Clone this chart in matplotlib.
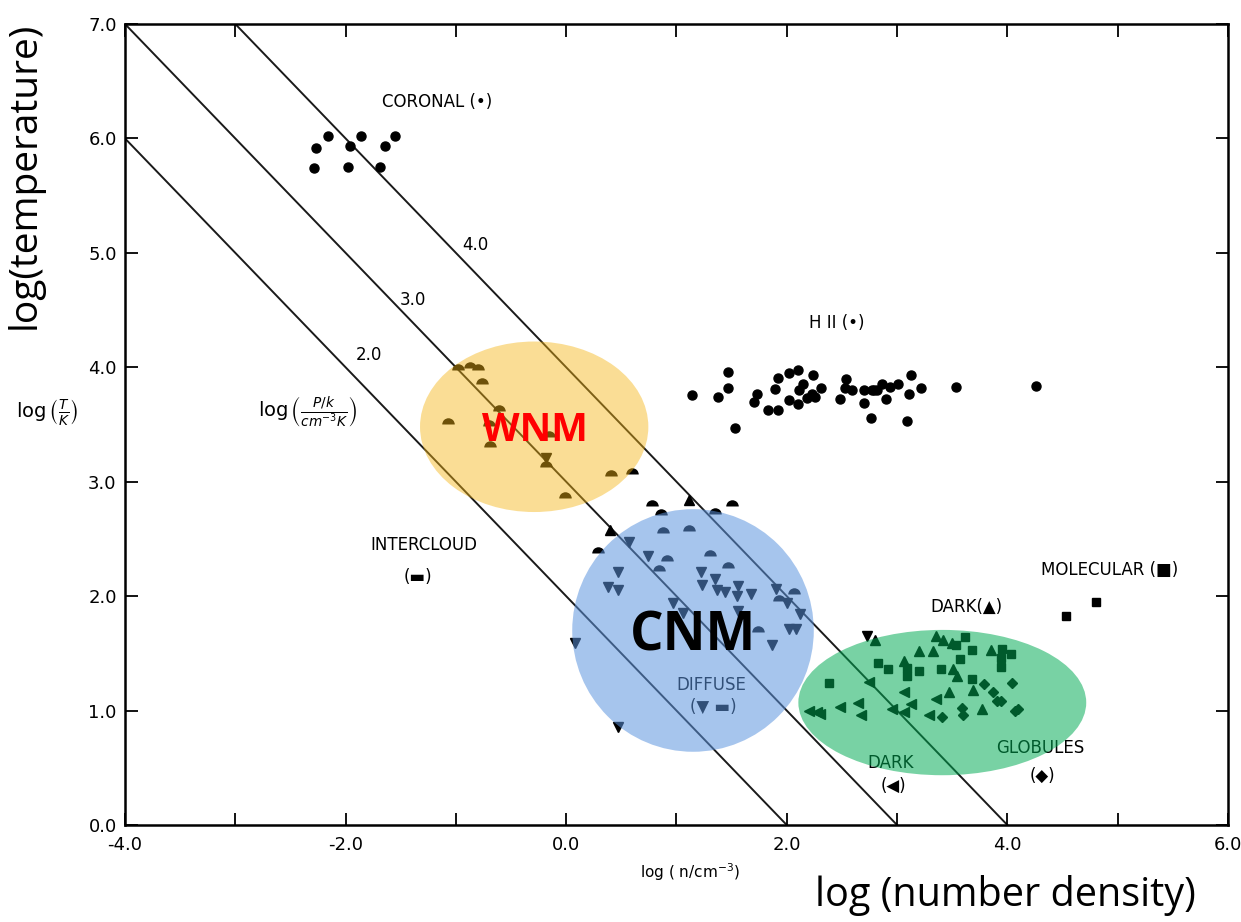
import matplotlib
matplotlib.use('Agg')
import matplotlib.pyplot as plt
from matplotlib.patches import Ellipse
import numpy as np

plt.rcParams['axes.unicode_minus'] = False

# lines of constant pressure log(P/k) = log n + log T
pressure_levels = [2.0, 3.0, 4.0]

# coronal gas
coronal_x = [-2.16, -1.86, -1.55, -2.27, -1.96, -1.64, -2.29, -1.98, -1.69]
coronal_y = [6.02, 6.02, 6.02, 5.92, 5.93, 5.93, 5.74, 5.75, 5.75]

# H II regions
hii_x = [1.14, 1.38, 1.47, 1.47, 1.53, 1.70, 1.73, 1.83, 1.92, 1.89, 1.92, 2.02,
         2.10, 2.02, 2.10, 2.11, 2.15, 2.18, 2.24, 2.23, 2.26, 2.31, 2.48, 2.54,
         2.53, 2.59, 2.70, 2.70, 2.76, 2.79, 2.77, 2.82, 2.86, 2.94, 3.01, 3.13,
         3.11, 3.22, 2.90, 3.09, 3.53, 4.26]
hii_y = [3.76, 3.74, 3.96, 3.82, 3.47, 3.70, 3.77, 3.63, 3.63, 3.81, 3.91, 3.95,
         3.98, 3.71, 3.68, 3.80, 3.85, 3.73, 3.93, 3.77, 3.74, 3.82, 3.72, 3.90,
         3.82, 3.80, 3.80, 3.69, 3.56, 3.80, 3.80, 3.80, 3.85, 3.83, 3.85, 3.93,
         3.77, 3.82, 3.72, 3.53, 3.83, 3.84]

# intercloud / diffuse half-disk points
dome_x = [-0.98, -0.87, -0.80, -0.76, -0.61, -1.07, -0.70, -0.16, -0.69, -0.18,
          0.41, 0.60, -0.01, 0.78, 0.86, 1.50, 1.35, 0.88, 1.11, 0.29, 0.91,
          1.30, 0.84, 1.47, 2.07, 1.93, 1.74]
dome_y = [3.98, 3.99, 3.98, 3.85, 3.62, 3.50, 3.49, 3.39, 3.30, 3.13,
          3.05, 3.07, 2.86, 2.79, 2.71, 2.79, 2.72, 2.55, 2.57, 2.38, 2.31,
          2.35, 2.22, 2.25, 2.02, 1.96, 1.69]

# diffuse clouds (down triangles)
diffuse_x = [-0.18, 0.57, 0.74, 0.47, 1.22, 1.35, 0.38, 0.47, 1.23, 1.37, 1.44,
             1.56, 1.55, 1.68, 1.90, 2.00, 2.12, 0.97, 1.06, 1.56, 2.02, 2.08,
             1.87, 0.08, 0.47, 2.73]
diffuse_y = [3.21, 2.47, 2.35, 2.21, 2.21, 2.15, 2.08, 2.05, 2.10, 2.05, 2.04,
             2.09, 2.00, 2.02, 2.06, 1.94, 1.84, 1.94, 1.85, 1.87, 1.71, 1.71,
             1.57, 1.59, 0.86, 1.65]

# dark clouds (up triangles)
dark_x = [1.11, 0.40, 2.80, 3.35, 3.42, 3.50, 3.20, 3.33, 3.85, 3.06, 3.54,
          3.47, 3.69, 3.77, 3.51]
dark_y = [2.84, 2.58, 1.62, 1.65, 1.62, 1.59, 1.52, 1.52, 1.53, 1.43, 1.30,
          1.16, 1.18, 1.01, 1.36]

# molecular clouds (squares)
mol_x = [2.38, 2.83, 2.92, 3.09, 3.09, 3.20, 3.40, 3.68, 3.57, 3.68, 3.95,
         4.03, 3.94, 3.62, 3.53, 3.94, 4.53, 4.80]
mol_y = [1.24, 1.42, 1.36, 1.30, 1.37, 1.35, 1.36, 1.53, 1.45, 1.28, 1.54,
         1.49, 1.38, 1.64, 1.57, 1.46, 1.83, 1.95]

# globules (diamonds)
glob_x = [3.79, 4.04, 3.87, 3.59, 3.60, 3.41, 3.91, 3.94, 4.07, 4.10]
glob_y = [1.23, 1.24, 1.16, 1.02, 0.96, 0.94, 1.08, 1.08, 1.00, 1.01]

# dark clouds (left triangles)
darkl_x = [2.27, 2.20, 2.30, 2.48, 2.65, 2.67, 2.75, 3.06, 3.13, 2.95, 3.06,
           3.29, 3.35]
darkl_y = [0.99, 1.00, 0.97, 1.03, 1.07, 0.96, 1.25, 1.16, 1.06, 1.01, 0.99,
           0.96, 1.10]

fig = plt.figure(figsize=(12.41, 9.22), dpi=100)
ax = fig.add_axes([0.1007, 0.1052, 0.8888, 0.8688])

n = np.array([-4.0, 6.0])
for p in pressure_levels:
    ax.plot(n, p - n, color='#1a1a1a', lw=1.4, zorder=1)

ms = 6.5
ax.plot(coronal_x, coronal_y, 'o', color='k', ms=ms, zorder=2)
ax.plot(hii_x, hii_y, 'o', color='k', ms=ms, zorder=2)
ax.plot(dome_x, dome_y, 'o', color='k', ms=9, fillstyle='top',
        markerfacecoloralt='none', mew=0, zorder=2)
ax.plot(diffuse_x, diffuse_y, 'v', color='k', ms=ms, zorder=2)
ax.plot(dark_x, dark_y, '^', color='k', ms=ms, zorder=2)
ax.plot(mol_x, mol_y, 's', color='k', ms=5.5, zorder=2)
ax.plot(glob_x, glob_y, 'D', color='k', ms=5.5, zorder=2)
ax.plot(darkl_x, darkl_y, '<', color='k', ms=ms, zorder=2)

# annotations from the original figure
fs = 12
ax.text(-0.825, 5.07, '4.0', fontsize=fs, ha='center', va='center', zorder=2)
ax.text(-1.39, 4.59, '3.0', fontsize=fs, ha='center', va='center', zorder=2)
ax.text(-1.79, 4.11, '2.0', fontsize=fs, ha='center', va='center', zorder=2)
ax.text(-2.34, 3.61, r'$\log\left(\frac{P/k}{cm^{-3}K}\right)$', fontsize=14,
        ha='center', va='center', zorder=2)
ax.text(-1.17, 6.32, 'CORONAL (•)', fontsize=fs, ha='center', va='center')
ax.text(2.45, 4.39, 'H II (•)', fontsize=fs, ha='center', va='center')
ax.text(-1.29, 2.45, 'INTERCLOUD', fontsize=fs, ha='center', va='center')
ax.text(-1.34, 2.17, '(▬)', fontsize=fs, ha='center', va='center')
ax.text(1.32, 1.22, 'DIFFUSE', fontsize=fs, ha='center', va='center', zorder=2)
ax.text(1.33, 1.03, '(▼ ▬)', fontsize=fs, ha='center', va='center', zorder=2)
ax.text(3.63, 1.91, 'DARK(▲)', fontsize=fs, ha='center', va='center')
ax.text(4.93, 2.23, 'MOLECULAR (■)', fontsize=fs, ha='center', va='center')
ax.text(2.94, 0.54, 'DARK', fontsize=fs, ha='center', va='center', zorder=2)
ax.text(2.97, 0.34, '(◀)', fontsize=fs, ha='center', va='center', zorder=2)
ax.text(4.30, 0.67, 'GLOBULES', fontsize=fs, ha='center', va='center', zorder=2)
ax.text(4.32, 0.43, '(◆)', fontsize=fs, ha='center', va='center', zorder=2)

# highlighted phases
ax.add_patch(Ellipse((-0.29, 3.48), 2.07, 1.49, facecolor=(0.96, 0.71, 0.08),
                     alpha=0.45, edgecolor='none', zorder=3))
ax.add_patch(Ellipse((1.15, 1.70), 2.19, 2.12, facecolor=(0.36, 0.58, 0.87),
                     alpha=0.54, edgecolor='none', zorder=3))
ax.add_patch(Ellipse((3.41, 1.07), 2.61, 1.27, facecolor=(0.0, 0.67, 0.33),
                     alpha=0.53, edgecolor='none', zorder=3))
ax.text(-0.28, 3.45, 'WNM', fontsize=28, fontweight='bold', color='red',
        family='Open Sans', ha='center', va='center', zorder=4)
ax.text(1.15, 1.65, 'CNM', fontsize=38, fontweight='bold', color='black',
        family='Open Sans', ha='center', va='center', zorder=4)

ax.set_xlim(-4, 6)
ax.set_ylim(0, 7)
ax.set_xticks(np.arange(-4, 7, 2))
ax.set_xticks(np.arange(-3, 6, 2), minor=True)
ax.set_yticks(np.arange(0, 8, 1))
ax.set_xticklabels([f'{v:.1f}' for v in np.arange(-4, 7, 2)])
ax.set_yticklabels([f'{v:.1f}' for v in np.arange(0, 8, 1)])
ax.tick_params(which='both', direction='in', length=9, width=1.3,
               top=True, right=True, labelsize=13)
ax.tick_params(axis='x', pad=8)
ax.tick_params(axis='y', pad=6)
for s in ax.spines.values():
    s.set_linewidth(1.8)

ax.text(-4.71, 3.61, r'$\log\left(\frac{T}{K}\right)$', fontsize=14,
        ha='center', va='center', clip_on=False)
fig.text(690 / 1241, 1 - 872 / 922, r'log ( n/cm$^{-3}$)', fontsize=11,
         ha='center', va='center')
fig.text(25 / 1241, 1 - 175 / 922, 'log(temperature)', fontsize=28,
         family='Open Sans', rotation=90, ha='center', va='center')
fig.text(1005 / 1241, 1 - 895 / 922, 'log (number density)', fontsize=28.5,
         family='Open Sans', ha='center', va='center')

fig.savefig('out.png', dpi=100)
